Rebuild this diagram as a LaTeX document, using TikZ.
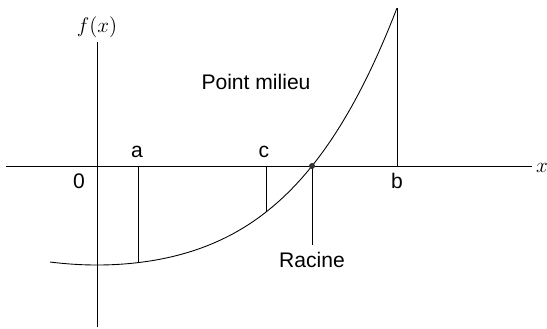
\documentclass[tikz,border=0pt]{standalone}
\usepackage{fontspec}
\setmainfont{Liberation Sans}
\usetikzlibrary{positioning}
\begin{document}
\begin{tikzpicture}[x=0.02cm,y=-0.02cm,
  axis/.style={draw=black,line width=0.5pt},
  curve/.style={draw=black,line width=0.5pt},
  ordinate/.style={draw=black,line width=0.5pt},
  lbl/.style={font=\large,text=black,inner sep=1pt}
]
\useasboundingbox (0,0) rectangle (547,328);
% axes
\coordinate (O) at (97,166);
\coordinate (Xstart) at (6,166); \coordinate (Xend) at (532,166);
\coordinate (Ytop) at (97,42); \coordinate (Ybot) at (97,327);
\draw[axis] (Xstart)--(Xend);
\draw[axis] (Ytop)--(Ybot);
\node[lbl,anchor=south] (fx) at (97,40) {$f(x)$};
\node[lbl,anchor=west] (xlab) at (534,168) {$x$};
\node[lbl,anchor=north east] (zero) at (87,172) {0};
% points on the axis and on the curve
\coordinate (A) at (138,166); \coordinate (Af) at (138,262.6);
\coordinate (C) at (266,166); \coordinate (Cf) at (266,212.1);
\coordinate (R) at (312,166); \coordinate (Rlow) at (312,245);
\coordinate (B) at (397,166); \coordinate (Bf) at (397,8);
\draw[curve] plot[domain=-0.47:3,samples=90,variable=\s] ({97+100*\s},{265-13.88*\s*\s-1.631*\s^4});
\draw[ordinate] (A)--(Af);
\draw[ordinate] (C)--(Cf);
\draw[ordinate] (R)--(Rlow);
\draw[ordinate] (B)--(Bf);
\fill[black!80] (R) circle (3);
% labels
\node[lbl,anchor=south] (la) at (137,160) {a};
\node[lbl,anchor=south] (lc) at (264,160) {c};
\node[lbl,anchor=north] (lb) at (397,171) {b};
\node[lbl,below=3pt of Rlow] (racine) {Racine};
\node[lbl] (milieu) at (256,82) {Point milieu};
\end{tikzpicture}
\end{document}
